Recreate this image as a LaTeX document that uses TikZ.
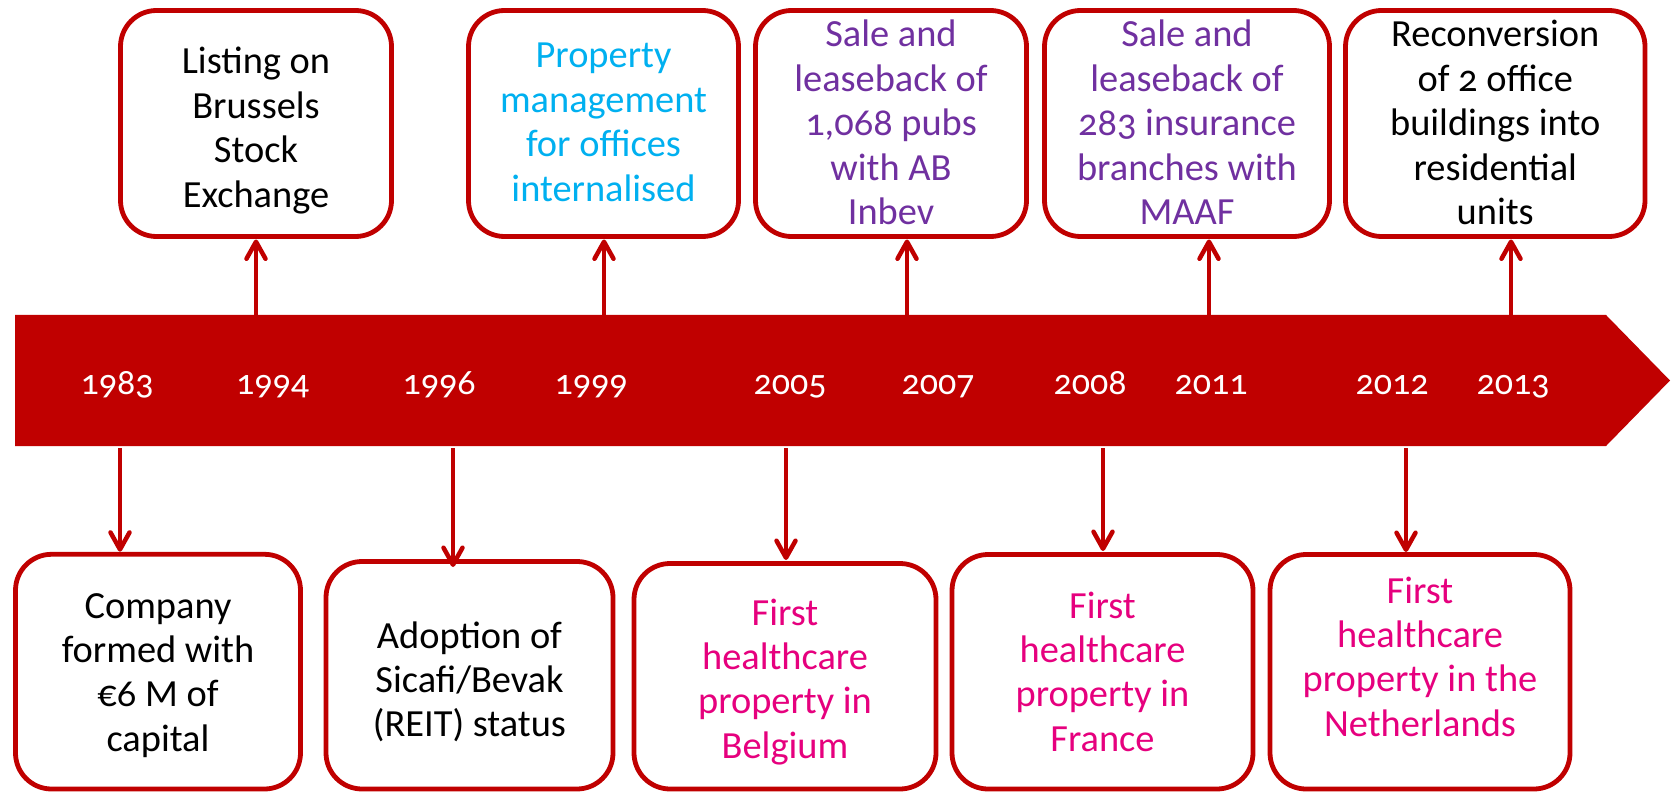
\documentclass[tikz,border=0pt]{standalone}
\usepackage{fontspec}
\setmainfont{Carlito}[Numbers=OldStyle]
\usetikzlibrary{arrows.meta}
\definecolor{tlred}{HTML}{C00000}
\definecolor{tblue}{HTML}{00B0F0}
\definecolor{tpurple}{HTML}{7030A0}
\definecolor{tpink}{HTML}{E6007E}
\newcommand\fstrut{\rule{0pt}{30pt}}
\begin{document}
\begin{tikzpicture}[x=1pt,y=-1pt,
  box/.style={draw=tlred, line width=4.8pt, rounded corners=36pt, inner sep=0pt, outer sep=0pt, fill=white},
  txt/.style={align=center, anchor=north, inner sep=0pt, outer sep=0pt, font=\fontsize{38.4}{44.4}\selectfont},
  yr/.style={text=white, anchor=base, inner sep=0pt, outer sep=0pt, font=\fontsize{36}{40}\selectfont},
  con/.style={draw=tlred, line width=4.5pt, -{Straight Barb[length=17pt,width=19pt,line cap=round,line join=round]}}
]
\useasboundingbox (0,0) rectangle (1673,794);
% timeline
\fill[tlred] (15,315) -- (1606,315) -- (1670,380.5) -- (1606,446) -- (15,446) -- cycle;
% years
\node[yr] (y1983) at (117,394) {1983};
\node[yr] (y1994) at (272.5,394) {1994};
\node[yr] (y1996) at (439,394) {1996};
\node[yr] (y1999) at (591,394) {1999};
\node[yr] (y2005) at (790,394) {2005};
\node[yr] (y2007) at (938,394) {2007};
\node[yr] (y2008) at (1090,394) {2008};
\node[yr] (y2011) at (1211,394) {2011};
\node[yr] (y2012) at (1392,394) {2012};
\node[yr] (y2013) at (1513,394) {2013};
% top boxes
\node[box, minimum width=271pt, minimum height=226pt] (A) at (256,123.5) {};
\node[box, minimum width=270pt, minimum height=226pt] (B) at (603.5,123.5) {};
\node[box, minimum width=271pt, minimum height=226pt] (C) at (891,123.5) {};
\node[box, minimum width=285pt, minimum height=226pt] (D) at (1187,123.5) {};
\node[box, minimum width=299.5pt, minimum height=226pt] (E) at (1495.25,123.5) {};
% bottom boxes
\node[box, minimum width=285pt, minimum height=234.7pt] (F) at (158,671.65) {};
\node[box, minimum width=287pt, minimum height=227.5pt] (G) at (469.5,675.25) {};
\node[box, minimum width=302pt, minimum height=225.5pt] (H) at (785,676.25) {};
\node[box, minimum width=301pt, minimum height=234.5pt] (I) at (1102.5,671.75) {};
\node[box, minimum width=300pt, minimum height=234.5pt] (J) at (1420,671.75) {};
% texts
\node[txt] (tA) at (256,44) {\fstrut Listing on\\Brussels\\Stock\\Exchange};
\node[txt, text=tblue] (tB) at (603.5,38) {\fstrut Property\\management\\for offices\\internalised};
\node[txt, text=tpurple] (tC) at (891,17) {\fstrut Sale and\\leaseback of\\1,068 pubs\\with AB\\Inbev};
\node[txt, text=tpurple] (tD) at (1187,17) {\fstrut Sale and\\leaseback of\\283 insurance\\branches with\\MAAF};
\node[txt] (tE) at (1495.25,17) {\fstrut Reconversion\\of 2 office\\buildings into\\residential\\units};
\node[txt] (tF) at (158,588) {\fstrut Company\\formed with\\€6 M of\\capital};
\node[txt] (tG) at (469.5,618) {\fstrut Adoption of\\Sicafi/Bevak\\(REIT) status};
\node[txt, text=tpink] (tH) at (785,595) {\fstrut First\\healthcare\\property in\\Belgium};
\node[txt, text=tpink] (tI) at (1102.5,588) {\fstrut First\\healthcare\\property in\\France};
\node[txt, text=tpink] (tJ) at (1420,573) {\fstrut First\\healthcare\\property in the\\Netherlands};
% anchor points on the timeline
\coordinate (u1994) at (256,315);
\coordinate (u1999) at (604,315);
\coordinate (u2007) at (907,315);
\coordinate (u2011) at (1209,315);
\coordinate (u2013) at (1511,315);
\coordinate (d1983) at (120,448);
\coordinate (d1996) at (453,448);
\coordinate (d2005) at (786,448);
\coordinate (d2008) at (1103,448);
\coordinate (d2012) at (1406,448);
% connectors
\draw[con, shorten >=3pt] (u1994) -- (u1994 |- A.south);
\draw[con, shorten >=3pt] (u1999) -- (u1999 |- B.south);
\draw[con, shorten >=3pt] (u2007) -- (u2007 |- C.south);
\draw[con, shorten >=3pt] (u2011) -- (u2011 |- D.south);
\draw[con, shorten >=3pt] (u2013) -- (u2013 |- E.south);
\draw[con, shorten >=2.6pt] (d1983) -- (d1983 |- F.north);
\draw[con, shorten >=-5.5pt] (d1996) -- (d1996 |- G.north);
\draw[con, shorten >=3.5pt] (d2005) -- (d2005 |- H.north);
\draw[con, shorten >=3.5pt] (d2008) -- (d2008 |- I.north);
\draw[con, shorten >=2.5pt] (d2012) -- (d2012 |- J.north);
\end{tikzpicture}
\end{document}
